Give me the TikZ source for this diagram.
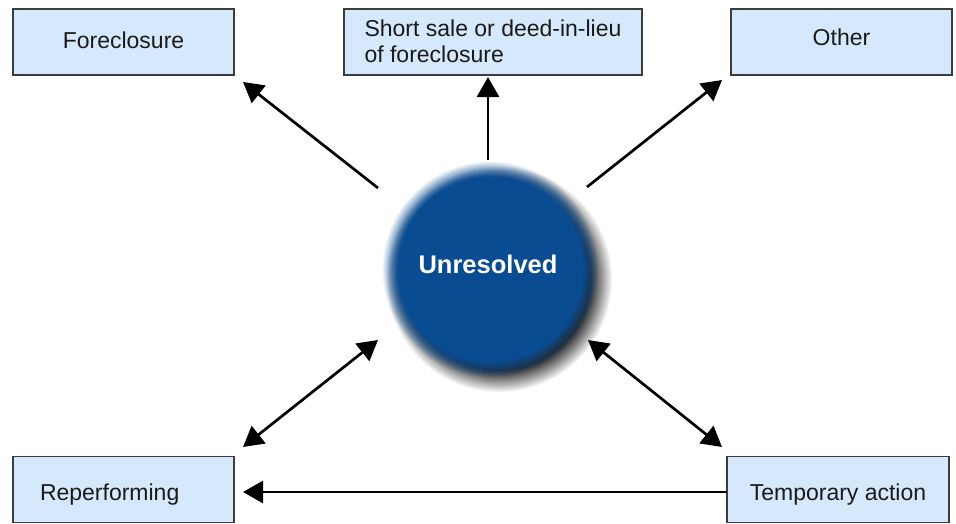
\documentclass[tikz,border=0pt]{standalone}
\usepackage{fontspec}
\setmainfont{Liberation Sans}
\usetikzlibrary{arrows.meta,fadings}
\definecolor{boxfill}{RGB}{214,232,251}
\definecolor{boxline}{RGB}{60,60,60}
\definecolor{ballblue}{RGB}{10,76,146}
\definecolor{txt}{RGB}{26,26,26}
\newcommand{\bshift}[2]{\raisebox{#1}[0pt][0pt]{#2}}
\begin{document}
\begin{tikzpicture}[x=1pt,y=-1pt,
  box/.style={draw=boxline,line width=1.2pt,fill=boxfill,rectangle,inner sep=0pt,
    minimum height=66pt,text=txt,font=\fontsize{23}{26}\selectfont},
  arr/.style={line width=2.7pt,-{Triangle[length=20pt,width=22pt]}},
  darr/.style={line width=2.7pt,{Triangle[length=20pt,width=22pt]}-{Triangle[length=20pt,width=22pt]}}]
\useasboundingbox (0,0) rectangle (956,523);
% boxes
\node[box,minimum width=221pt] (fc) at (123.5,42) {\bshift{-6.2pt}{Foreclosure}};
\node[box,minimum width=298pt,align=left,text depth=1pt] (ss) at (493,42) {Short sale or deed-in-lieu\\of foreclosure};
\node[box,minimum width=221pt] (ot) at (841.5,42) {\bshift{-3.2pt}{Other}};
\node[box,minimum width=221pt,text width=167pt,align=left,inner xsep=27pt] (rp) at (123.5,489.5) {\bshift{-10.7pt}{Reperforming}};
\node[box,minimum width=222pt] (ta) at (838,489.5) {\bshift{-10.7pt}{Temporary action}};
% ball
\fill[black!85,path fading=circle with fuzzy edge 20 percent] (499,279) circle (113);
\fill[ballblue,path fading=circle with fuzzy edge 15 percent] (490,269) circle (108);
\node[circle,minimum size=204pt,text=white,font=\fontsize{25.5}{28}\selectfont\bfseries] (u) at (488,264) {Unresolved};
% connector end points
\coordinate (a1s) at (378,188); \coordinate (a1e) at (243,82);
\coordinate (a2s) at (488,160); \coordinate (a2e) at (488,77);
\coordinate (a3s) at (587,187); \coordinate (a3e) at (722,80);
\coordinate (a4s) at (243,447); \coordinate (a4e) at (378,340);
\coordinate (a5s) at (588,340); \coordinate (a5e) at (722,447);
\coordinate (a6s) at (727,492); \coordinate (a6e) at (243,492);
\draw[arr] (a1s) -- (a1e);
\draw[arr] (a2s) -- (a2e);
\draw[arr] (a3s) -- (a3e);
\draw[darr] (a4s) -- (a4e);
\draw[darr] (a5s) -- (a5e);
\draw[arr] (a6s) -- (a6e);
\end{tikzpicture}
\end{document}
